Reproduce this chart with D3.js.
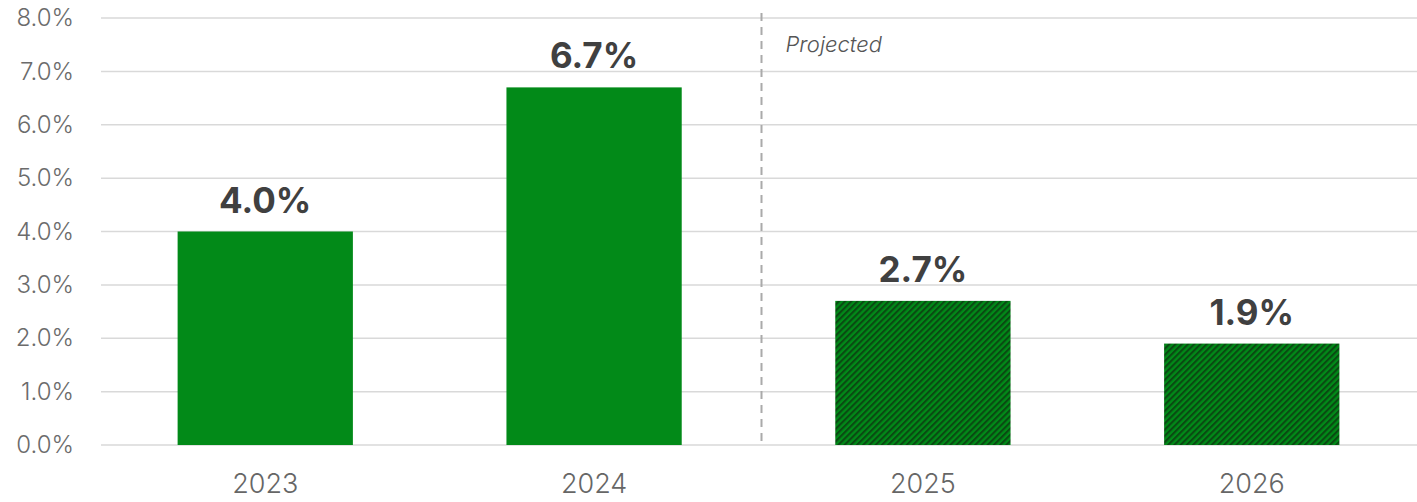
<!DOCTYPE html>
<html>
<head>
<meta charset="utf-8">
<script src="https://cdn.jsdelivr.net/npm/d3@7"></script>
<style>
  body { margin: 0; background: #fff; }
  svg { display: block; font-family: Inter, "Noto Sans", sans-serif; }
</style>
</head>
<body>
<div id="chart"></div>
<script>
const years = ['2023', '2024', '2025', '2026'];
const values = [4.0, 6.7, 2.7, 1.9];
const projected = [false, false, true, true];
const yTicks = [0, 1, 2, 3, 4, 5, 6, 7, 8];

const width = 1417;
const height = 502;
const margin = { top: 18, right: 1, bottom: 57, left: 101 };

const svg = d3.select('#chart')
  .append('svg')
  .attr('width', width)
  .attr('height', height);

const defs = svg.append('defs');
const pat = defs.append('pattern')
  .attr('id', 'hatch')
  .attr('patternUnits', 'userSpaceOnUse')
  .attr('width', 4.4)
  .attr('height', 4.4)
  .attr('patternTransform', 'rotate(45)');
pat.append('rect').attr('width', 4.4).attr('height', 4.4).attr('fill', '#018a18');
pat.append('rect').attr('width', 2.1).attr('height', 4.4).attr('fill', '#0a4a12');

const x = d3.scaleBand()
  .domain(years)
  .range([margin.left, width - margin.right])
  .paddingInner(0.467)
  .paddingOuter(0.233);

const y = d3.scaleLinear()
  .domain([0, 8])
  .range([height - margin.bottom, margin.top]);

// gridlines
svg.append('g')
  .selectAll('line')
  .data(yTicks)
  .join('line')
    .attr('x1', margin.left)
    .attr('x2', width)
    .attr('y1', d => y(d))
    .attr('y2', d => y(d))
    .attr('stroke', '#d9d9d9')
    .attr('stroke-width', 1.5);

// y axis labels
const yAxis = svg.append('g')
  .attr('transform', `translate(${margin.left},0)`)
  .call(d3.axisLeft(y).tickValues(yTicks).tickFormat(d => d.toFixed(1) + '%').tickSize(0).tickPadding(27));
yAxis.select('.domain').remove();
yAxis.selectAll('text')
  .attr('font-size', 24)
  .attr('fill', '#6b6b6b')
  .attr('font-family', 'Inter, "Noto Sans", sans-serif')
  .attr('font-weight', 300);

// divider between actual and projected
const divX = (x('2024') + x.bandwidth() + x('2025')) / 2 + 3;
svg.append('line')
  .attr('x1', divX).attr('x2', divX)
  .attr('y1', 13).attr('y2', y(0))
  .attr('stroke', '#aaaaaa')
  .attr('stroke-width', 2)
  .attr('stroke-dasharray', '8,6');

svg.append('text')
  .attr('x', divX + 24)
  .attr('y', 52)
  .attr('font-size', 22)
  .attr('font-style', 'italic')
  .attr('font-weight', 300)
  .attr('fill', '#555')
  .text('Projected');

// bars
svg.append('g')
  .selectAll('rect')
  .data(years)
  .join('rect')
    .attr('x', d => x(d))
    .attr('y', (d, i) => y(values[i]))
    .attr('width', x.bandwidth())
    .attr('height', (d, i) => y(0) - y(values[i]))
    .attr('fill', (d, i) => projected[i] ? 'url(#hatch)' : '#028a18');

// value labels
svg.append('g')
  .selectAll('text')
  .data(years)
  .join('text')
    .attr('x', d => x(d) + x.bandwidth() / 2)
    .attr('y', (d, i) => y(values[i]) - 19)
    .attr('text-anchor', 'middle')
    .attr('font-size', 35)
    .attr('font-weight', 700)
    .attr('fill', '#404040')
    .text((d, i) => values[i].toFixed(1) + '%');

// x axis labels
const xAxis = svg.append('g')
  .attr('transform', `translate(0,${y(0)})`)
  .call(d3.axisBottom(x).tickSize(0).tickPadding(29));
xAxis.select('.domain').remove();
xAxis.selectAll('text')
  .attr('font-size', 27)
  .attr('fill', '#666')
  .attr('font-family', 'Inter, "Noto Sans", sans-serif')
  .attr('font-weight', 300);
</script>
</body>
</html>
